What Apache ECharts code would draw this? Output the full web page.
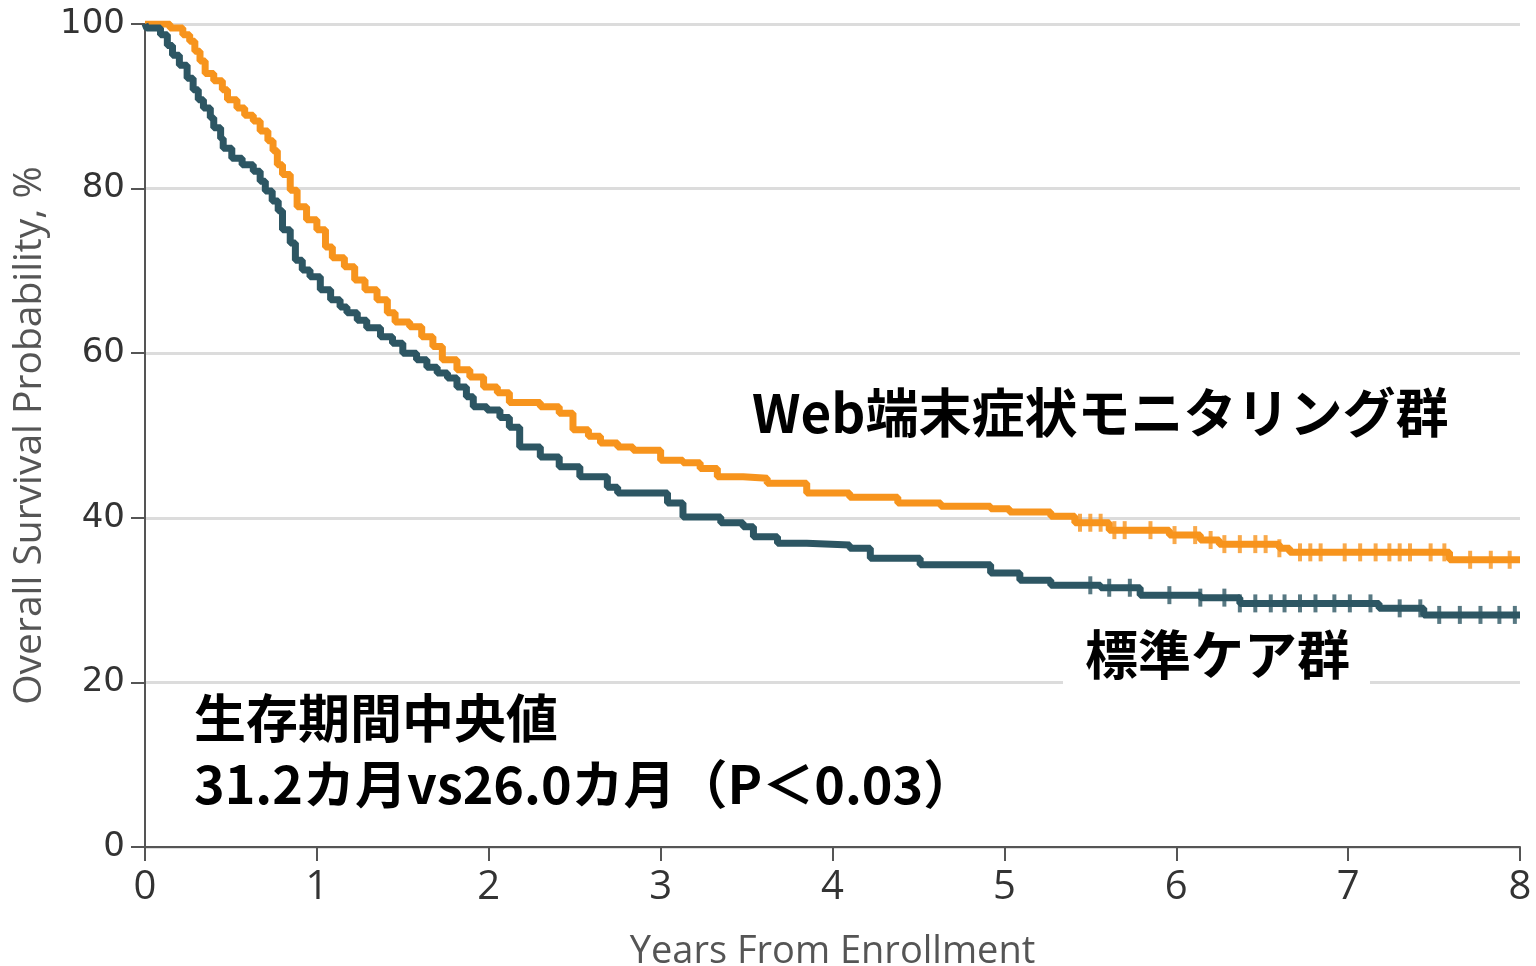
<!DOCTYPE html>
<html>
<head>
<meta charset="utf-8">
<script src="https://cdn.jsdelivr.net/npm/echarts@6/dist/echarts.min.js"></script>
<style>
  html, body { margin: 0; padding: 0; background: #fff; }
  #main { width: 1536px; height: 966px; }
</style>
</head>
<body>
<div id="main"></div>
<script>
// 生存曲線（読み取り値）: 年, 生存率 %
var webYears = [0, 0.03, 0.145, 0.22, 0.26, 0.29, 0.32, 0.35, 0.40, 0.45, 0.48, 0.535, 0.58, 0.63, 0.67, 0.715, 0.745, 0.77, 0.80,
  0.845, 0.885, 0.94, 1.0, 1.05, 1.09, 1.16, 1.22, 1.28, 1.35, 1.41, 1.455, 1.54, 1.61, 1.675, 1.73, 1.815, 1.89, 1.97, 2.05,
  2.12, 2.30, 2.41, 2.49, 2.58, 2.65, 2.75, 2.84, 3.0, 3.13, 3.23, 3.33, 3.48, 3.62, 3.85, 4.10, 4.38, 4.63, 4.92,
  5.03, 5.27, 5.41, 5.61, 5.96, 6.14, 6.25, 6.60, 6.66, 7.59, 8.0];
var webSurv = [100, 100, 99.5, 98.7, 97.9, 96.7, 95.5, 94.0, 93.1, 92.0, 90.8, 89.8, 88.9, 88.2, 87.0, 85.8, 84.6, 82.9, 81.7,
  79.8, 77.8, 76.2, 75.0, 72.9, 71.6, 70.5, 68.9, 67.7, 66.5, 64.9, 63.8, 63.2, 62.0, 60.8, 59.2, 58.0, 57.1, 55.9, 55.2,
  54.0, 53.5, 52.7, 50.7, 49.9, 49.1, 48.6, 48.2, 47.0, 46.7, 46.0, 45.0, 44.8, 44.2, 43.0, 42.5, 41.8, 41.4, 41.1,
  40.7, 40.2, 39.4, 38.5, 37.9, 37.3, 36.8, 36.3, 35.8, 34.9, 34.9];

var careYears = [0, 0.01, 0.09, 0.13, 0.16, 0.20, 0.245, 0.28, 0.31, 0.34, 0.38, 0.40, 0.44, 0.455, 0.505, 0.565, 0.63, 0.67,
  0.70, 0.74, 0.775, 0.80, 0.845, 0.875, 0.915, 0.96, 1.02, 1.08, 1.135, 1.175, 1.235, 1.29, 1.37, 1.44, 1.50, 1.58, 1.64,
  1.70, 1.76, 1.815, 1.87, 1.91, 1.99, 2.065, 2.12, 2.18, 2.30, 2.41, 2.53, 2.69, 2.75, 2.92, 3.04, 3.13, 3.35,
  3.48, 3.54, 3.68, 3.85, 4.10, 4.22, 4.51, 4.92, 5.09, 5.27, 5.56, 5.79, 6.14, 6.37, 7.18, 7.44, 8.0];
var careSurv = [100, 99.5, 98.7, 97.4, 96.2, 95.0, 93.4, 92.0, 90.8, 89.8, 88.6, 87.4, 86.1, 84.9, 83.7, 82.9, 82.1, 80.9,
  79.7, 78.5, 77.3, 75.0, 73.4, 71.3, 70.1, 69.3, 67.7, 66.5, 65.6, 64.9, 64.0, 63.1, 62.0, 61.2, 60.0, 59.2, 58.3,
  57.6, 57.0, 55.9, 54.7, 53.5, 53.1, 52.2, 51.0, 48.6, 47.4, 46.2, 45.0, 43.7, 43.0, 43.0, 41.8, 40.1, 39.4,
  38.9, 37.7, 36.9, 36.7, 36.3, 35.1, 34.3, 33.3, 32.4, 31.8, 31.5, 30.6, 30.3, 29.6, 29.0, 28.2, 28.2];

// 打ち切り（年）
var webCensor = [5.44, 5.50, 5.56, 5.64, 5.70, 5.85, 5.99, 6.11, 6.20, 6.28, 6.37, 6.46, 6.52, 6.60, 6.72, 6.78, 6.84,
  6.98, 7.07, 7.16, 7.24, 7.30, 7.36, 7.48, 7.56, 7.71, 7.83, 7.94];
var careCensor = [5.50, 5.61, 5.73, 5.96, 6.14, 6.28, 6.37, 6.46, 6.55, 6.63, 6.72, 6.81, 6.92, 7.01, 7.13, 7.30, 7.42,
  7.53, 7.65, 7.77, 7.88, 7.97];

var xTicks = [0, 1, 2, 3, 4, 5, 6, 7, 8];
var yTicks = [0, 20, 40, 60, 80, 100];

var webColor = '#F7941D';
var careColor = '#2D5663';

function pairs(xs, ys) {
  return xs.map(function (x, i) { return [x, ys[i]]; });
}
// 打ち切り時点の生存率を階段関数から読む
function stepAt(xs, ys, t) {
  var v = ys[0];
  for (var i = 0; i < xs.length; i++) {
    if (xs[i] <= t) v = ys[i];
  }
  return v;
}
function censorPts(cs, xs, ys) {
  return cs.map(function (t) { return [t, stepAt(xs, ys, t)]; });
}

var chart = echarts.init(document.getElementById('main'));

var latin = '"Open Sans", sans-serif';
var cjk = '"Noto Sans CJK JP", sans-serif';

var option = {
  animation: false,
  backgroundColor: '#fff',
  grid: { left: 145, right: 16, top: 24, bottom: 119, containLabel: false, outerBoundsMode: 'none' },
  xAxis: {
    type: 'value',
    min: 0, max: 8, interval: 1,
    name: 'Years From Enrollment',
    nameLocation: 'middle',
    nameGap: 86,
    nameTextStyle: { fontFamily: latin, fontSize: 38, color: '#555' },
    axisLine: { lineStyle: { color: '#555', width: 2 } },
    axisTick: { show: true, length: 14, lineStyle: { color: '#555', width: 2 } },
    axisLabel: {
      fontFamily: latin, fontSize: 40, color: '#333', margin: 21,
      formatter: function (v) { return xTicks.indexOf(v) >= 0 ? String(v) : ''; }
    },
    splitLine: { show: false }
  },
  yAxis: {
    type: 'value',
    min: 0, max: 100, interval: 20,
    name: 'Overall Survival Probability, %',
    nameLocation: 'middle',
    nameGap: 93,
    nameTextStyle: { fontFamily: latin, fontSize: 39, color: '#555' },
    axisLine: { show: true, lineStyle: { color: '#555', width: 2 } },
    axisTick: { show: true, length: 14, lineStyle: { color: '#555', width: 2 } },
    axisLabel: {
      fontFamily: '"DejaVu Sans", sans-serif', fontSize: 34, color: '#333', margin: 20,
      formatter: function (v) { return yTicks.indexOf(v) >= 0 ? String(v) : ''; }
    },
    splitLine: { show: true, lineStyle: { color: '#dcdcdc', width: 3 } }
  },
  series: [
    {
      name: 'Web',
      type: 'line',
      step: 'end',
      showSymbol: false,
      data: pairs(webYears, webSurv),
      lineStyle: { color: webColor, width: 7 },
      z: 3
    },
    {
      name: 'Care',
      type: 'line',
      step: 'end',
      showSymbol: false,
      data: pairs(careYears, careSurv),
      lineStyle: { color: careColor, width: 7 },
      z: 3
    },
    {
      type: 'scatter',
      symbol: 'rect',
      symbolSize: [4, 18],
      itemStyle: { color: webColor },
      data: censorPts(webCensor, webYears, webSurv),
      z: 4
    },
    {
      type: 'scatter',
      symbol: 'rect',
      symbolSize: [4, 18],
      itemStyle: { color: careColor },
      data: censorPts(careCensor, careYears, careSurv),
      z: 4
    }
  ],
  graphic: [
    {
      type: 'text', left: 752, top: 386, z: 10,
      style: {
        text: 'Web端末症状モニタリング群',
        font: 'bold 53px ' + cjk, fill: '#000',
        backgroundColor: '#fff', padding: [0, 0, 10, 0]
      }
    },
    {
      type: 'text', left: 1063, top: 626, z: 10,
      style: {
        text: '標準ケア群',
        font: 'bold 53px ' + cjk, fill: '#000',
        backgroundColor: '#fff', padding: [2, 20, 8, 22]
      }
    },
    {
      type: 'text', left: 172, top: 685, z: 10,
      style: {
        text: '生存期間中央値\n31.2カ月vs26.0カ月（P＜0.03）',
        font: 'bold 52px ' + cjk, fill: '#000', lineHeight: 66,
        backgroundColor: '#fff', padding: [0, 90, 10, 22]
      }
    }
  ]
};

chart.setOption(option);
</script>
</body>
</html>
